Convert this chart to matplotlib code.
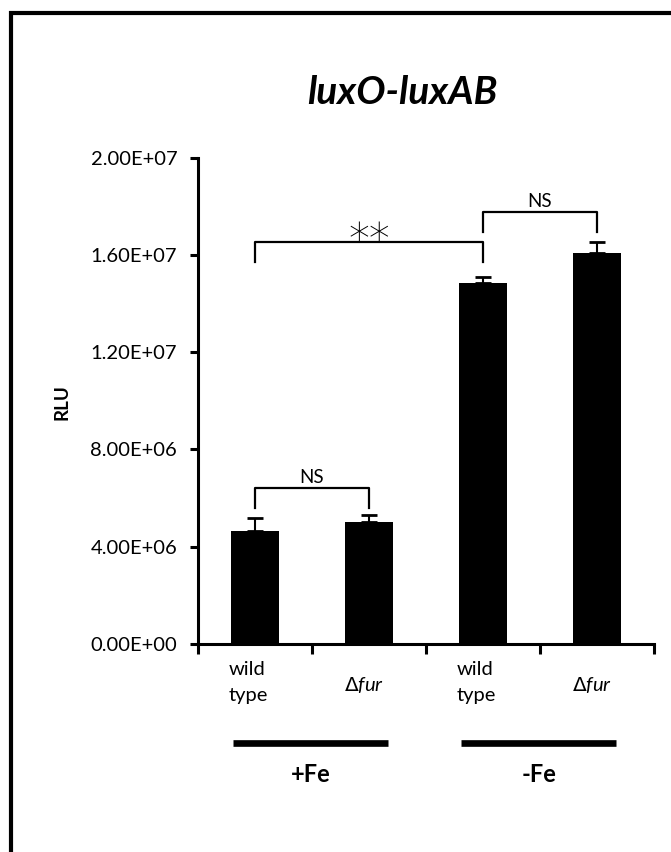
import numpy as np
import matplotlib
matplotlib.use('Agg')
import matplotlib.pyplot as plt
from matplotlib.patches import Rectangle

plt.rcParams['font.family'] = ['Lato', 'DejaVu Sans']

# ---- data ----
categories = ['wild\ntype', '$\\Delta$fur', 'wild\ntype', '$\\Delta$fur']
cat_italic = [False, True, False, True]
values = [4.64e6, 5.01e6, 14.84e6, 16.07e6]
errors = [0.55e6, 0.29e6, 0.24e6, 0.45e6]
groups = ['+Fe', '-Fe']
yticks = [0, 4e6, 8e6, 1.2e7, 1.6e7, 2e7]
ytick_labels = ['0.00E+00', '4.00E+06', '8.00E+06', '1.20E+07', '1.60E+07', '2.00E+07']
# (left bar, right bar, label, bracket height, leg end)
comparisons = [(0, 1, 'NS', 6.41e6, 5.59e6),
               (0, 2, '**', 16.52e6, 15.70e6),
               (2, 3, 'NS', 17.76e6, 16.93e6)]
title = 'luxO-luxAB'
ylabel = 'RLU'

W, H = 671, 852
fig = plt.figure(figsize=(W / 100, H / 100), dpi=100)
ax = fig.add_axes([198 / W, 1 - 644 / H, 456 / W, 486.5 / H])

x = np.arange(len(values))
ax.bar(x, values, width=0.42, color='black', zorder=2)
ax.errorbar(x, values, yerr=[np.zeros(len(values)), errors], fmt='none',
            ecolor='black', elinewidth=1.5, capsize=5.5, capthick=2.0, zorder=1)

ax.set_xlim(-0.5, len(values) - 0.5)
ax.set_ylim(0, 2e7)
for s in ['top', 'right']:
    ax.spines[s].set_visible(False)
for s in ['left', 'bottom']:
    ax.spines[s].set_linewidth(2.2)

ax.set_xticks(np.arange(-0.5, len(values), 1.0))
ax.set_xticklabels([])
ax.tick_params(axis='x', direction='out', length=7, width=2.2)
ax.set_yticks(yticks)
ax.set_yticklabels(ytick_labels, fontsize=14.5)
ax.tick_params(axis='y', direction='out', length=6, width=2.2, pad=9)

# category labels
for i in range(len(values)):
    if cat_italic[i]:
        ax.text(i - 0.215, -0.085, categories[i], transform=ax.get_xaxis_transform(),
                ha='left', va='center', fontsize=14.5, style='italic')
    else:
        ax.text(i - 0.23, -0.0792, categories[i], transform=ax.get_xaxis_transform(),
                ha='left', va='center', fontsize=14.5, linespacing=1.65)

# group lines and labels
for g, name in enumerate(groups):
    x0 = 2 * g - 0.19
    x1 = 2 * g + 1 + 0.17
    ax.plot([x0, x1], [-0.2035, -0.2035], transform=ax.get_xaxis_transform(),
            color='black', lw=4.8, clip_on=False, solid_capstyle='butt')
    ax.text((x0 + x1) / 2, -0.269, name, transform=ax.get_xaxis_transform(),
            ha='center', va='center', fontsize=17, fontweight='bold')

# significance brackets
for a, b, lab, top, leg in comparisons:
    ax.plot([a, a, b, b], [leg, top, top, leg], color='black', lw=1.6,
            clip_on=False, zorder=3)
    if lab == '**':
        ax.text((a + b) / 2, top + 0.05e6, lab, ha='center', va='center',
                fontsize=30, family='DejaVu Sans', fontweight='light')
    else:
        ax.text((a + b) / 2, top + 0.08e6, lab, ha='center', va='bottom', fontsize=13.5)

fig.text(402 / W, 1 - 93 / H, title, ha='center', va='center', fontsize=28,
         fontweight='bold', style='italic')
fig.text(62 / W, 1 - 402 / H, ylabel, ha='center', va='center', rotation=90,
         fontsize=13.5, fontweight='bold')

fig.add_artist(Rectangle((11 / W, -0.1), 1.2, (H - 13) / H + 0.1,
                         transform=fig.transFigure, fill=False, lw=3.0,
                         edgecolor='black'))

fig.savefig('out.png', dpi=100)
